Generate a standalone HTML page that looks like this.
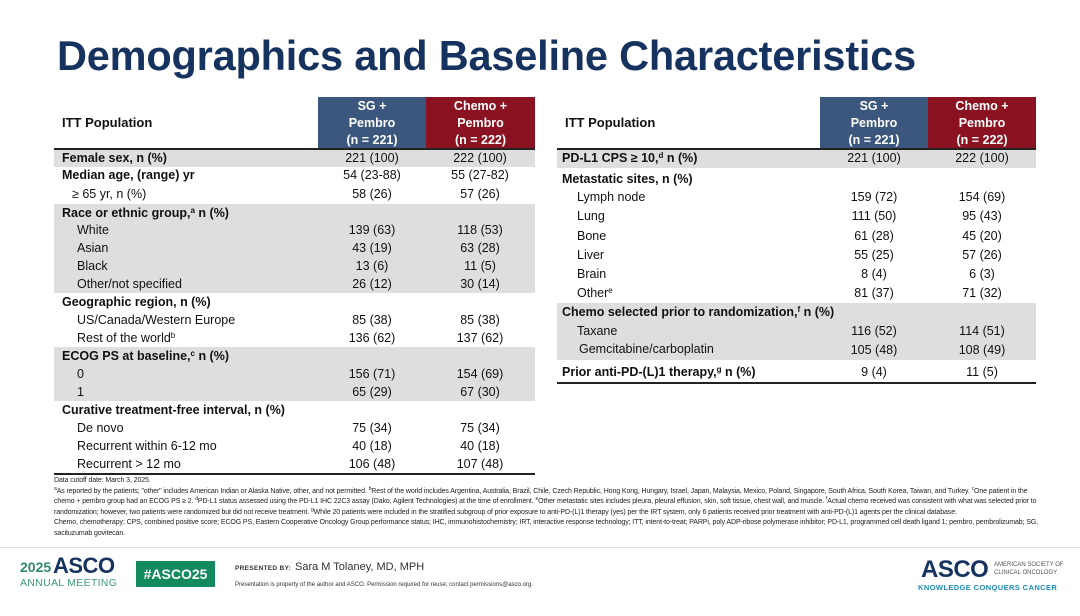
<!DOCTYPE html>
<html><head><meta charset="utf-8"><style>
*{margin:0;padding:0;box-sizing:border-box}
body{width:1080px;height:616px;background:#fff;position:relative;overflow:hidden;font-family:"Liberation Sans",Arial,sans-serif;color:#111}
.a{position:absolute}
.t{position:absolute;left:57px;top:32px;font-size:41.5px;font-weight:bold;color:#16325f;letter-spacing:-0.2px}
.g{position:absolute;background:#dedede}
.row{position:absolute;height:18px;line-height:18px;font-size:12.5px;white-space:nowrap}
.b{font-weight:bold}
.v{position:absolute;width:108px;text-align:center;height:18px;line-height:18px;font-size:12.5px}
.h{position:absolute;color:#fff;font-weight:bold;font-size:12.5px;text-align:center;line-height:17px;padding-top:1px}
.ln{position:absolute;height:2px;background:#222}
sup{font-size:8px;line-height:0;vertical-align:4px}
.fn{position:absolute;left:54px;width:990px;font-size:7px;line-height:10.5px;color:#222;letter-spacing:-0.1px}
.fn sup{font-size:5px;vertical-align:3px}
</style></head><body>
<div class="t">Demographics and Baseline Characteristics</div>

<!-- LEFT TABLE -->
<div class="h" style="left:318px;top:97px;width:108px;height:51px;background:#3b577d">SG +<br>Pembro<br>(n = 221)</div>
<div class="h" style="left:426px;top:97px;width:109px;height:51px;background:#8b1220">Chemo +<br>Pembro<br>(n = 222)</div>
<div class="row b" style="left:62px;top:114px;font-size:13px">ITT Population</div>
<div class="ln" style="left:54px;top:148px;width:481px"></div>
<div class="g" style="left:54px;top:150px;width:481px;height:17px"></div>
<div class="g" style="left:54px;top:204px;width:481px;height:89px"></div>
<div class="g" style="left:54px;top:347px;width:481px;height:54px"></div>
<div class="ln" style="left:54px;top:473px;width:481px;height:1.5px"></div>

<!-- RIGHT TABLE -->
<div class="h" style="left:820px;top:97px;width:108px;height:51px;background:#3b577d">SG +<br>Pembro<br>(n = 221)</div>
<div class="h" style="left:928px;top:97px;width:108px;height:51px;background:#8b1220">Chemo +<br>Pembro<br>(n = 222)</div>
<div class="row b" style="left:565px;top:114px;font-size:13px">ITT Population</div>
<div class="ln" style="left:557px;top:148px;width:479px"></div>
<div class="g" style="left:557px;top:150px;width:479px;height:18px"></div>
<div class="g" style="left:557px;top:303px;width:479px;height:57px"></div>
<div class="ln" style="left:557px;top:382px;width:479px;height:1.5px"></div>

<!-- left rows -->
<div class="row b" style="left:62px;top:149px">Female sex, n (%)</div><div class="v" style="left:318px;top:149px">221 (100)</div><div class="v" style="left:426px;top:149px">222 (100)</div>
<div class="row b" style="left:62px;top:166px">Median age, (range) yr</div><div class="v" style="left:318px;top:166px">54 (23-88)</div><div class="v" style="left:426px;top:166px">55 (27-82)</div>
<div class="row" style="left:72px;top:185px">≥ 65 yr, n (%)</div><div class="v" style="left:318px;top:185px">58 (26)</div><div class="v" style="left:426px;top:185px">57 (26)</div>
<div class="row b" style="left:62px;top:204px">Race or ethnic group,<sup>a</sup> n (%)</div>
<div class="row" style="left:77px;top:221px">White</div><div class="v" style="left:318px;top:221px">139 (63)</div><div class="v" style="left:426px;top:221px">118 (53)</div>
<div class="row" style="left:77px;top:239px">Asian</div><div class="v" style="left:318px;top:239px">43 (19)</div><div class="v" style="left:426px;top:239px">63 (28)</div>
<div class="row" style="left:77px;top:257px">Black</div><div class="v" style="left:318px;top:257px">13 (6)</div><div class="v" style="left:426px;top:257px">11 (5)</div>
<div class="row" style="left:77px;top:275px">Other/not specified</div><div class="v" style="left:318px;top:275px">26 (12)</div><div class="v" style="left:426px;top:275px">30 (14)</div>
<div class="row b" style="left:62px;top:293px">Geographic region, n (%)</div>
<div class="row" style="left:77px;top:311px">US/Canada/Western Europe</div><div class="v" style="left:318px;top:311px">85 (38)</div><div class="v" style="left:426px;top:311px">85 (38)</div>
<div class="row" style="left:77px;top:329px">Rest of the world<sup>b</sup></div><div class="v" style="left:318px;top:329px">136 (62)</div><div class="v" style="left:426px;top:329px">137 (62)</div>
<div class="row b" style="left:62px;top:347px">ECOG PS at baseline,<sup>c</sup> n (%)</div>
<div class="row" style="left:77px;top:365px">0</div><div class="v" style="left:318px;top:365px">156 (71)</div><div class="v" style="left:426px;top:365px">154 (69)</div>
<div class="row" style="left:77px;top:383px">1</div><div class="v" style="left:318px;top:383px">65 (29)</div><div class="v" style="left:426px;top:383px">67 (30)</div>
<div class="row b" style="left:62px;top:401px">Curative treatment-free interval, n (%)</div>
<div class="row" style="left:77px;top:419px">De novo</div><div class="v" style="left:318px;top:419px">75 (34)</div><div class="v" style="left:426px;top:419px">75 (34)</div>
<div class="row" style="left:77px;top:437px">Recurrent within 6-12 mo</div><div class="v" style="left:318px;top:437px">40 (18)</div><div class="v" style="left:426px;top:437px">40 (18)</div>
<div class="row" style="left:77px;top:455px">Recurrent &gt; 12 mo</div><div class="v" style="left:318px;top:455px">106 (48)</div><div class="v" style="left:426px;top:455px">107 (48)</div>

<!-- right rows -->
<div class="row b" style="left:562px;top:149px">PD-L1 CPS ≥ 10,<sup>d</sup> n (%)</div><div class="v" style="left:820px;top:149px">221 (100)</div><div class="v" style="left:928px;top:149px">222 (100)</div>
<div class="row b" style="left:562px;top:170px">Metastatic sites, n (%)</div>
<div class="row" style="left:577px;top:188px">Lymph node</div><div class="v" style="left:820px;top:188px">159 (72)</div><div class="v" style="left:928px;top:188px">154 (69)</div>
<div class="row" style="left:577px;top:207px">Lung</div><div class="v" style="left:820px;top:207px">111 (50)</div><div class="v" style="left:928px;top:207px">95 (43)</div>
<div class="row" style="left:577px;top:227px">Bone</div><div class="v" style="left:820px;top:227px">61 (28)</div><div class="v" style="left:928px;top:227px">45 (20)</div>
<div class="row" style="left:577px;top:246px">Liver</div><div class="v" style="left:820px;top:246px">55 (25)</div><div class="v" style="left:928px;top:246px">57 (26)</div>
<div class="row" style="left:577px;top:265px">Brain</div><div class="v" style="left:820px;top:265px">8 (4)</div><div class="v" style="left:928px;top:265px">6 (3)</div>
<div class="row" style="left:577px;top:284px">Other<sup>e</sup></div><div class="v" style="left:820px;top:284px">81 (37)</div><div class="v" style="left:928px;top:284px">71 (32)</div>
<div class="row b" style="left:562px;top:303px">Chemo selected prior to randomization,<sup>f</sup> n (%)</div>
<div class="row" style="left:577px;top:322px">Taxane</div><div class="v" style="left:820px;top:322px">116 (52)</div><div class="v" style="left:928px;top:322px">114 (51)</div>
<div class="row" style="left:579px;top:340px">Gemcitabine/carboplatin</div><div class="v" style="left:820px;top:341px">105 (48)</div><div class="v" style="left:928px;top:341px">108 (49)</div>
<div class="row b" style="left:562px;top:363px">Prior anti-PD-(L)1 therapy,<sup>g</sup> n (%)</div><div class="v" style="left:820px;top:363px">9 (4)</div><div class="v" style="left:928px;top:363px">11 (5)</div>

<!-- footnotes -->
<div class="fn" style="top:476px">Data cutoff date: March 3, 2025.<br>
<sup>a</sup>As reported by the patients; "other" includes American Indian or Alaska Native, other, and not permitted. <sup>b</sup>Rest of the world includes Argentina, Australia, Brazil, Chile, Czech Republic, Hong Kong, Hungary, Israel, Japan, Malaysia, Mexico, Poland, Singapore, South Africa, South Korea, Taiwan, and Turkey. <sup>c</sup>One patient in the chemo + pembro group had an ECOG PS ≥ 2. <sup>d</sup>PD-L1 status assessed using the PD-L1 IHC 22C3 assay (Dako, Agilent Technologies) at the time of enrollment. <sup>e</sup>Other metastatic sites includes pleura, pleural effusion, skin, soft tissue, chest wall, and muscle. <sup>f</sup>Actual chemo received was consistent with what was selected prior to randomization; however, two patients were randomized but did not receive treatment. <sup>g</sup>While 20 patients were included in the stratified subgroup of prior exposure to anti-PD-(L)1 therapy (yes) per the IRT system, only 6 patients received prior treatment with anti-PD-(L)1 agents per the clinical database.<br>
Chemo, chemotherapy; CPS, combined positive score; ECOG PS, Eastern Cooperative Oncology Group performance status; IHC, immunohistochemistry; IRT, interactive response technology; ITT, intent-to-treat; PARPi, poly ADP-ribose polymerase inhibitor; PD-L1, programmed cell death ligand 1; pembro, pembrolizumab; SG, sacituzumab govitecan.</div>

<div class="a" style="left:0;top:547px;width:1080px;height:1px;background:#ddd"></div>

<!-- footer -->
<div class="a" style="left:20px;top:559px;font-size:14px;font-weight:bold;color:#2e8b6a">2025</div>
<div class="a" style="left:53px;top:553px;font-size:22px;font-weight:bold;color:#16325f;letter-spacing:-0.5px">ASCO</div>
<div class="a" style="left:20px;top:577px;font-size:10.5px;color:#3a9b7a;letter-spacing:0.3px">ANNUAL MEETING</div>
<div class="a" style="left:136px;top:561px;width:79px;height:26px;background:#138a5e;color:#fff;font-weight:bold;font-size:14px;line-height:26px;text-align:center">#ASCO25</div>
<div class="a" style="left:235px;top:565px;font-size:6.5px;font-weight:bold;color:#333;letter-spacing:0.3px">PRESENTED BY:</div>
<div class="a" style="left:295px;top:561px;font-size:11px;color:#333">Sara M Tolaney, MD, MPH</div>
<div class="a" style="left:235px;top:582px;font-size:6px;color:#333">Presentation is property of the author and ASCO. Permission required for reuse; contact permissions@asco.org.</div>
<div class="a" style="left:921px;top:556px;font-size:24px;font-weight:bold;color:#16325f;letter-spacing:-0.5px">ASCO</div>
<div class="a" style="left:994px;top:561px;font-size:6px;color:#555;line-height:8px">AMERICAN SOCIETY OF<br>CLINICAL ONCOLOGY</div>
<div class="a" style="left:918px;top:583px;font-size:7.5px;font-weight:bold;color:#1f8ab8;letter-spacing:0.4px">KNOWLEDGE CONQUERS CANCER</div>
</body></html>
